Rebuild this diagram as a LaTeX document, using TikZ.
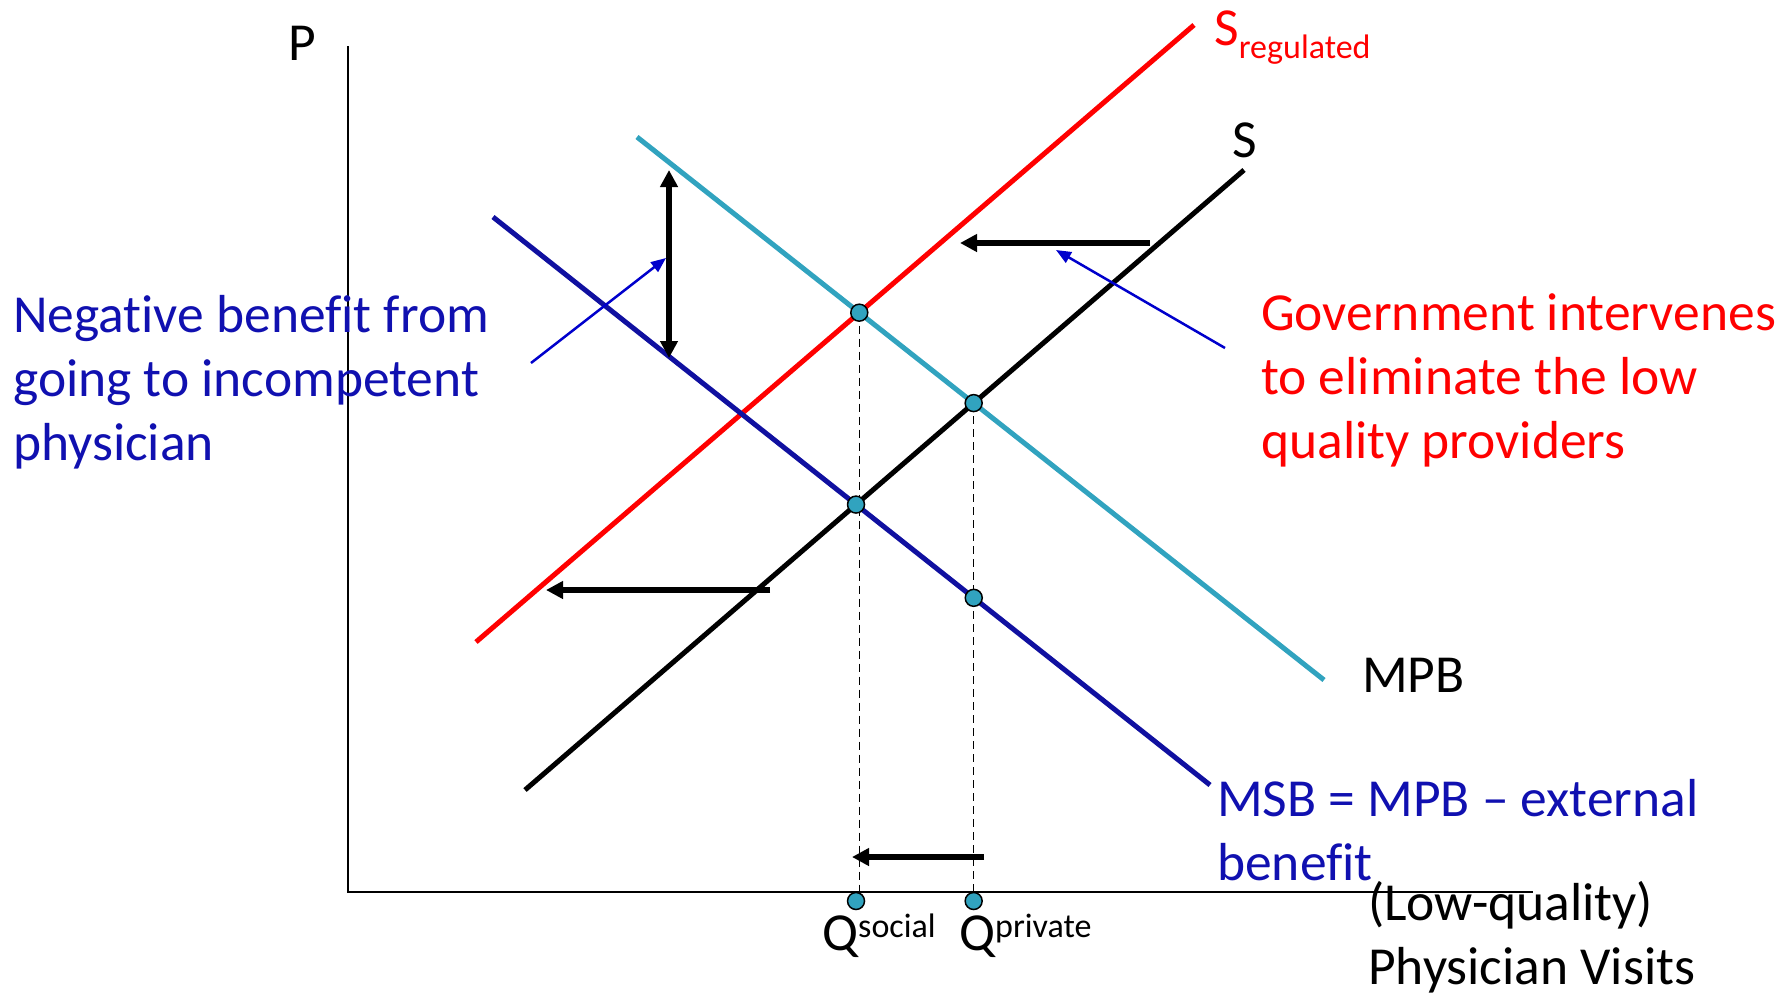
\documentclass[tikz,border=0pt]{standalone}
\usepackage{fontspec}
\setmainfont{Carlito}[Ligatures={TeX,CommonOff}]
\usetikzlibrary{arrows.meta}
\definecolor{mpbcyan}{RGB}{49,163,191}
\definecolor{msbblue}{RGB}{16,16,160}
\definecolor{txtblue}{RGB}{16,16,176}
\definecolor{arrblue}{RGB}{0,0,204}
\tikzset{
	bigtip/.tip={Triangle[length=17pt,width=17pt]},
	smalltip/.tip={Triangle[length=15pt,width=12pt]},
	curve/.style={line width=5pt},
	shift arrow/.style={line width=5.5pt,-bigtip},
	note arrow/.style={line width=2.5pt,arrblue,-smalltip},
	eq point/.style={circle,draw=black,line width=1.5pt,fill=mpbcyan,minimum size=17pt,inner sep=0pt},
	guide/.style={line width=1.5pt,dash pattern=on 8pt off 5pt},
	lbl/.style={inner sep=0pt,anchor=base west,font=\fontsize{53.5}{64}\selectfont,align=left},
}
\begin{document}
\begin{tikzpicture}[x=1pt,y=-1pt]
	\useasboundingbox (0,0) rectangle (1790,996);
	\coordinate (O) at (348,892);
	\coordinate (Ptop) at (348,46);
	\coordinate (Qend) at (1533,892);
	\coordinate (R1) at (476,642);
	\coordinate (R2) at (1194,25);
	\coordinate (S1) at (525,790);
	\coordinate (S2) at (1244,170);
	\coordinate (B1) at (637,137);
	\coordinate (B2) at (1324,680);
	\coordinate (M1) at (493,217);
	\coordinate (M2) at (1210,785);
	\coordinate (Ereg) at (intersection of R1--R2 and B1--B2);
	\coordinate (Epriv) at (intersection of S1--S2 and B1--B2);
	\coordinate (Esoc) at (intersection of S1--S2 and M1--M2);
	\coordinate (Edown) at (intersection of M1--M2 and Epriv--{Epriv |- O});

	\draw[line width=2pt] (Ptop) -- (O) -- (Qend);
	\draw[guide] (Ereg) -- (Ereg |- O);
	\draw[guide] (Epriv) -- (Epriv |- O);

	\draw[curve,red] (R1) -- (R2);
	\draw[curve,black] (S1) -- (S2);
	\draw[curve,mpbcyan] (B1) -- (B2);
	\draw[curve,msbblue] (M1) -- (M2);

	\coordinate (gapT) at (669,170);
	\coordinate (gapB) at (669,358);
	\draw[shift arrow,bigtip-bigtip] (gapT) -- (gapB);
	\coordinate (negA) at (531,363);
	\coordinate (negB) at (666,258);
	\draw[note arrow] (negA) -- (negB);
	\coordinate (upA) at (1150,243);
	\coordinate (upB) at (960,243);
	\draw[shift arrow] (upA) -- (upB);
	\coordinate (govA) at (1225,348);
	\coordinate (govB) at (1056,250);
	\draw[note arrow] (govA) -- (govB);
	\coordinate (lowA) at (770,590);
	\coordinate (lowB) at (546,590);
	\draw[shift arrow] (lowA) -- (lowB);
	\coordinate (qA) at (984,857);
	\coordinate (qB) at (852,857);
	\draw[shift arrow] (qA) -- (qB);

	\node[eq point] (ereg) at (Ereg) {};
	\node[eq point] (epriv) at (Epriv) {};
	\node[eq point] (esoc) at (Esoc) {};
	\node[eq point] (edown) at (Edown) {};
	\node[eq point] (qsoc) at (Esoc |- 0,901) {};
	\node[eq point] (qpriv) at (Epriv |- 0,901) {};

	\node[lbl] (plab) at (288,60) {P};
	\node[lbl,red] (sreg) at (1214,45) {S\raisebox{-13pt}{\fontsize{34}{40}\selectfont regulated}};
	\node[lbl] (slab) at (1232,157) {S};
	\node[lbl] (mpblab) at (1362,692) {MPB};
	\node[lbl,txtblue] (msblab) at (1217,880) {MSB = MPB – external\\benefit};
	\node[lbl] (qlab) at (1368,984) {(Low-quality)\\Physician Visits};
	\node[lbl,txtblue] (neglab) at (13,460) {Negative benefit from\\going to incompetent\\physician};
	\node[lbl,red] (govlab) at (1261,458) {Government intervenes\\to eliminate the low\\quality providers};
	\node[lbl] (qsoclab) at (822,950) {Q\raisebox{13pt}{\fontsize{34}{40}\selectfont social}};
	\node[lbl] (qprivlab) at (959,950) {Q\raisebox{13pt}{\fontsize{34}{40}\selectfont private}};
\end{tikzpicture}
\end{document}
